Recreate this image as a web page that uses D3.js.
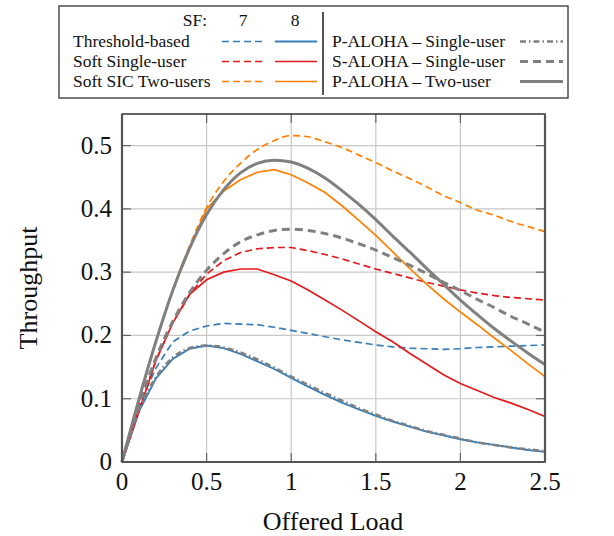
<!DOCTYPE html>
<html>
<head>
<meta charset="utf-8">
<script src="https://cdn.jsdelivr.net/npm/d3@7"></script>
<style>
  body { margin: 0; background: #fff; }
  text { font-family: "Liberation Serif", "Times New Roman", serif; fill: #111; }
</style>
</head>
<body>
<svg width="614" height="536"></svg>
<script>
// offered load G
var load = [0, 0.1, 0.2, 0.3, 0.4, 0.5, 0.6, 0.7, 0.8, 0.9, 1.0, 1.1, 1.2,
            1.3, 1.4, 1.5, 1.6, 1.7, 1.8, 1.9, 2.0, 2.1, 2.2, 2.3, 2.4, 2.5];

// threshold-based
var thr7 = [0, 0.09, 0.148, 0.19, 0.207, 0.215, 0.219, 0.218, 0.217, 0.213, 0.208, 0.203, 0.198,
            0.193, 0.189, 0.185, 0.182, 0.180, 0.179, 0.178, 0.179, 0.181, 0.182, 0.183, 0.184, 0.185];
var thr8 = [0, 0.080, 0.132, 0.163, 0.179, 0.184, 0.180, 0.171, 0.159, 0.147, 0.133, 0.119, 0.106,
            0.094, 0.083, 0.073, 0.064, 0.056, 0.048, 0.042, 0.036, 0.031, 0.027, 0.023, 0.019, 0.016];
// soft single-user
var soft7 = [0, 0.085, 0.16, 0.22, 0.265, 0.297, 0.318, 0.331, 0.337, 0.339, 0.339, 0.334, 0.328,
             0.321, 0.313, 0.305, 0.298, 0.291, 0.284, 0.278, 0.272, 0.267, 0.263, 0.260, 0.258, 0.256];
var soft8 = [0, 0.08, 0.16, 0.22, 0.265, 0.288, 0.300, 0.305, 0.305, 0.296, 0.286, 0.272, 0.256,
             0.240, 0.223, 0.206, 0.190, 0.172, 0.155, 0.138, 0.124, 0.113, 0.102, 0.093, 0.083, 0.072];
// soft SIC two users
var sic7 = [0, 0.099, 0.19, 0.272, 0.342, 0.402, 0.443, 0.472, 0.494, 0.508, 0.516, 0.514, 0.506,
            0.497, 0.485, 0.473, 0.460, 0.448, 0.435, 0.421, 0.410, 0.398, 0.390, 0.380, 0.372, 0.364];
var sic8 = [0, 0.099, 0.19, 0.272, 0.338, 0.400, 0.428, 0.446, 0.458, 0.462, 0.454, 0.441, 0.426,
            0.405, 0.382, 0.358, 0.332, 0.306, 0.281, 0.258, 0.237, 0.217, 0.196, 0.176, 0.155, 0.135];
// ALOHA references
var pAlohaSingle = [0, 0.082, 0.134, 0.165, 0.180, 0.184, 0.181, 0.173, 0.162, 0.149, 0.135, 0.122, 0.109,
                    0.097, 0.085, 0.075, 0.065, 0.057, 0.049, 0.043, 0.037, 0.031, 0.027, 0.023, 0.020, 0.017];
var sAlohaSingle = [0, 0.090, 0.164, 0.222, 0.268, 0.303, 0.329, 0.348, 0.359, 0.366, 0.368, 0.366, 0.361,
                    0.354, 0.345, 0.335, 0.323, 0.311, 0.298, 0.284, 0.271, 0.257, 0.244, 0.230, 0.218, 0.205];
var pAlohaTwo = [0, 0.099, 0.190, 0.271, 0.338, 0.391, 0.430, 0.457, 0.472, 0.477, 0.474, 0.464, 0.449,
                 0.429, 0.407, 0.383, 0.357, 0.332, 0.306, 0.281, 0.256, 0.233, 0.211, 0.191, 0.172, 0.154];

var xTicks = [0, 0.5, 1, 1.5, 2, 2.5];
var yTicks = [0, 0.1, 0.2, 0.3, 0.4, 0.5];

var blue = "#377eb8", red = "#e41a1c", orange = "#ff7f00", gray = "#808080";

var series = [
  {name: "thr7",  y: thr7,  color: blue,   width: 1.7, dash: "7,4",   curve: d3.curveLinear},
  {name: "thr8",  y: thr8,  color: blue,   width: 1.9, dash: null,    curve: d3.curveLinear},
  {name: "soft7", y: soft7, color: red,    width: 1.7, dash: "7,4",   curve: d3.curveLinear},
  {name: "soft8", y: soft8, color: red,    width: 1.7, dash: null,    curve: d3.curveLinear},
  {name: "sic7",  y: sic7,  color: orange, width: 1.7, dash: "7,4",   curve: d3.curveMonotoneX},
  {name: "sic8",  y: sic8,  color: orange, width: 1.7, dash: null,    curve: d3.curveLinear},
  {name: "pa1",   y: pAlohaSingle, color: gray, width: 2.6, dash: "6,3,1.5,3", curve: d3.curveMonotoneX},
  {name: "sa1",   y: sAlohaSingle, color: gray, width: 3,   dash: "8,5",       curve: d3.curveMonotoneX},
  {name: "pa2",   y: pAlohaTwo,    color: gray, width: 3,   dash: null,        curve: d3.curveMonotoneX}
];

var svg = d3.select("svg");
var margin = {left: 122, right: 545, top: 114, bottom: 462};

var x = d3.scaleLinear().domain([0, 2.5]).range([margin.left, margin.right]);
var y = d3.scaleLinear().domain([0, 0.55]).range([margin.bottom, margin.top]);

// grid
svg.append("g").selectAll("line").data(xTicks.slice(1, -1)).enter().append("line")
    .attr("x1", function(d) { return x(d); }).attr("x2", function(d) { return x(d); })
    .attr("y1", margin.top).attr("y2", margin.bottom)
    .attr("stroke", "#c8c8c8").attr("stroke-width", 1.2);
svg.append("g").selectAll("line").data(yTicks.slice(1)).enter().append("line")
    .attr("x1", margin.left).attr("x2", margin.right)
    .attr("y1", function(d) { return y(d); }).attr("y2", function(d) { return y(d); })
    .attr("stroke", "#c8c8c8").attr("stroke-width", 1.2);

// inward ticks on all sides
var tickLen = 9;
var tk = svg.append("g").attr("stroke", "#666").attr("stroke-width", 1.2);
xTicks.forEach(function(d) {
  tk.append("line").attr("x1", x(d)).attr("x2", x(d)).attr("y1", margin.bottom).attr("y2", margin.bottom - tickLen);
  tk.append("line").attr("x1", x(d)).attr("x2", x(d)).attr("y1", margin.top).attr("y2", margin.top + tickLen);
});
yTicks.forEach(function(d) {
  tk.append("line").attr("y1", y(d)).attr("y2", y(d)).attr("x1", margin.left).attr("x2", margin.left + tickLen);
  tk.append("line").attr("y1", y(d)).attr("y2", y(d)).attr("x1", margin.right).attr("x2", margin.right - tickLen);
});

// lines
var plot = svg.append("g");
series.forEach(function(s) {
  var line = d3.line()
      .x(function(d, i) { return x(load[i]); })
      .y(function(d) { return y(d); })
      .curve(s.curve);
  plot.append("path")
      .datum(s.y)
      .attr("d", line)
      .attr("fill", "none")
      .attr("stroke", s.color)
      .attr("stroke-width", s.width)
      .attr("stroke-dasharray", s.dash);
});

// frame
svg.append("rect")
    .attr("x", margin.left).attr("y", margin.top)
    .attr("width", margin.right - margin.left).attr("height", margin.bottom - margin.top)
    .attr("fill", "none").attr("stroke", "#222").attr("stroke-width", 1.4);
svg.append("line").attr("x1", margin.left).attr("x2", margin.left)
    .attr("y1", margin.top).attr("y2", margin.bottom)
    .attr("stroke", "#555").attr("stroke-width", 2.2);
svg.append("line").attr("x1", margin.right).attr("x2", margin.right)
    .attr("y1", margin.top).attr("y2", margin.bottom)
    .attr("stroke", "#555").attr("stroke-width", 2.2);
svg.append("line").attr("x1", margin.left).attr("x2", margin.right)
    .attr("y1", margin.bottom).attr("y2", margin.bottom)
    .attr("stroke", "#555").attr("stroke-width", 2);

// tick labels
svg.append("g").selectAll("text").data(xTicks).enter().append("text")
    .attr("x", function(d) { return x(d); })
    .attr("y", 490)
    .attr("text-anchor", "middle")
    .style("font-size", "25px")
    .text(function(d) { return String(d); });
svg.append("g").selectAll("text").data(yTicks).enter().append("text")
    .attr("x", 112)
    .attr("y", function(d) { return y(d) + 8; })
    .attr("text-anchor", "end")
    .style("font-size", "25px")
    .text(function(d) { return String(d); });

// axis titles
svg.append("text")
    .attr("x", 333).attr("y", 530)
    .attr("text-anchor", "middle")
    .style("font-size", "26px")
    .text("Offered Load");
svg.append("text")
    .attr("transform", "translate(37,288) rotate(-90)")
    .attr("text-anchor", "middle")
    .style("font-size", "26px")
    .text("Throughput");

// legend
var lg = svg.append("g");
lg.append("rect").attr("x", 59).attr("y", 6).attr("width", 509).attr("height", 92)
    .attr("fill", "#fff").attr("stroke", "#333").attr("stroke-width", 1.3);
lg.append("line").attr("x1", 323).attr("x2", 323).attr("y1", 12).attr("y2", 95)
    .attr("stroke", "#555").attr("stroke-width", 2);

var legendFont = "17.5px";
lg.append("text").attr("x", 207).attr("y", 26).attr("text-anchor", "end")
    .style("font-size", legendFont).text("SF:");
lg.append("text").attr("x", 243).attr("y", 26).attr("text-anchor", "middle")
    .style("font-size", legendFont).text("7");
lg.append("text").attr("x", 295).attr("y", 26).attr("text-anchor", "middle")
    .style("font-size", legendFont).text("8");

var leftRows = [
  {label: "Threshold-based",    s7: series[0], s8: series[1]},
  {label: "Soft Single-user",   s7: series[2], s8: series[3]},
  {label: "Soft SIC Two-users", s7: series[4], s8: series[5]}
];
var rightRows = [
  {label: "P-ALOHA \u2013 Single-user", s: series[6]},
  {label: "S-ALOHA \u2013 Single-user", s: series[7]},
  {label: "P-ALOHA \u2013 Two-user",    s: series[8]}
];
var rowBase = [46.5, 66.5, 86.5];

function sample(g, s, x1, x2, yy) {
  g.append("line").attr("x1", x1).attr("x2", x2).attr("y1", yy).attr("y2", yy)
      .attr("stroke", s.color).attr("stroke-width", s.width)
      .attr("stroke-dasharray", s.dash);
}

leftRows.forEach(function(r, i) {
  lg.append("text").attr("x", 73).attr("y", rowBase[i])
      .style("font-size", legendFont).text(r.label);
  sample(lg, r.s7, 222, 264, rowBase[i] - 5);
  sample(lg, r.s8, 275, 317, rowBase[i] - 5);
});
rightRows.forEach(function(r, i) {
  lg.append("text").attr("x", 332).attr("y", rowBase[i])
      .style("font-size", legendFont).text(r.label);
  sample(lg, r.s, 520, 563, rowBase[i] - 5);
});
</script>
</body>
</html>
